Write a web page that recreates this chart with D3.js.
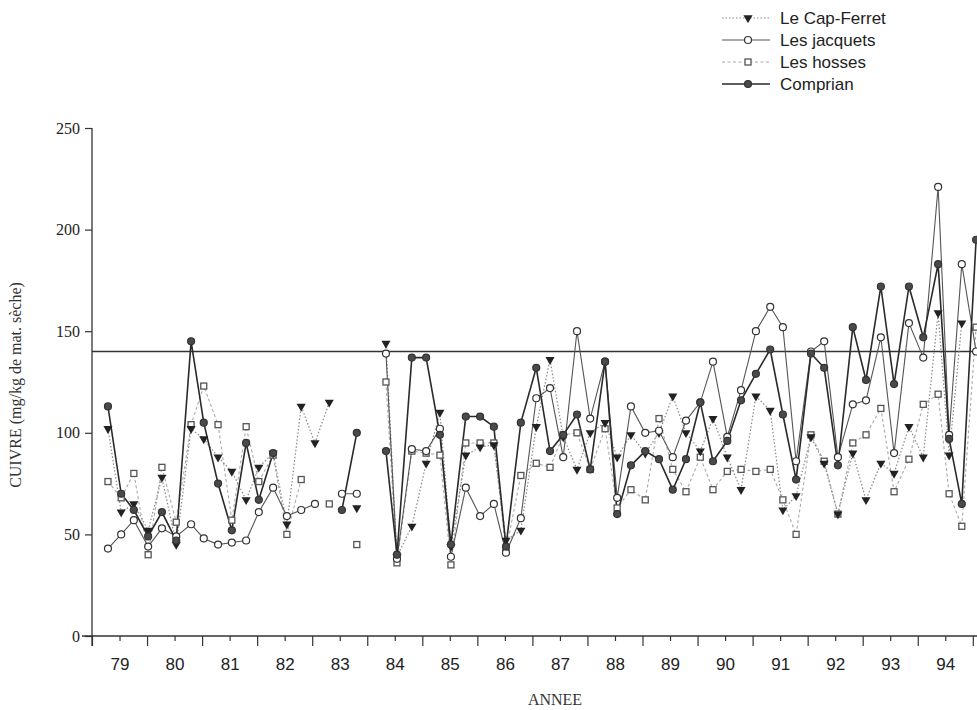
<!DOCTYPE html>
<html>
<head>
<meta charset="utf-8">
<script src="https://cdnjs.cloudflare.com/ajax/libs/d3/7.8.5/d3.min.js"></script>
<style>
  body { margin: 0; background: #fff; }
  svg { display: block; }
</style>
</head>
<body>
<svg></svg>
<script>
'use strict';

// sampling dates (decimal years); the 1984.0 entry is an empty column that breaks the lines
var sampleDates = [
  1979.29, 1979.53, 1979.76, 1980.02, 1980.27, 1980.53, 1980.80, 1981.03, 1981.29, 1981.54,
  1981.80, 1982.03, 1982.29, 1982.54, 1982.80, 1983.05, 1983.31, 1983.54, 1983.81, 1984.00,
  1984.34, 1984.54, 1984.81, 1985.07, 1985.32, 1985.52, 1985.79, 1986.05, 1986.30, 1986.52,
  1986.79, 1987.07, 1987.32, 1987.56, 1987.81, 1988.05, 1988.32, 1988.54, 1988.79, 1989.05,
  1989.30, 1989.55, 1989.79, 1990.05, 1990.28, 1990.54, 1990.79, 1991.06, 1991.32, 1991.55,
  1991.79, 1992.06, 1992.30, 1992.55, 1992.82, 1993.06, 1993.33, 1993.57, 1993.84, 1994.10,
  1994.37, 1994.57, 1994.80, 1995.06
];

var capFerret = [
  102, 61, 65, 52, 78, 45, 102, 97, 88, 81,
  67, 83, 90, 55, 113, 95, 115, null, 63, null,
  144, 39, 54, 85, 110, 44, 89, 93, 94, 47,
  52, 103, 136, 98, 82, 100, 105, 88, 99, 90,
  100, 118, 100, 91, 107, 88, 72, 118, 111, 62,
  69, 98, 85, 60, 90, 67, 85, 80, 103, 88,
  159, 89, 154, null
];

var jacquets = [
  43, 50, 57, 44, 53, 49, 55, 48, 45, 46,
  47, 61, 73, 59, 62, 65, null, 70, 70, null,
  139, 38, 92, 91, 102, 39, 73, 59, 65, 41,
  58, 117, 122, 88, 150, 107, 135, 68, 113, 100,
  101, 88, 106, 115, 135, 98, 121, 150, 162, 152,
  86, 140, 145, 88, 114, 116, 147, 90, 154, 137,
  221, 99, 183, 140
];

var hosses = [
  76, 68, 80, 40, 83, 56, 104, 123, 104, 57,
  103, 76, 89, 50, 77, null, 65, null, 45, null,
  125, 36, 91, 90, 89, 35, 95, 95, 95, 42,
  79, 85, 83, 99, 100, 82, 102, 63, 72, 67,
  107, 82, 71, 88, 72, 81, 82, 81, 82, 67,
  50, 99, 86, 60, 95, 99, 112, 71, 87, 114,
  119, 70, 54, 152
];

var comprian = [
  113, 70, 62, 49, 61, 47, 145, 105, 75, 52,
  95, 67, 90, null, null, null, null, 62, 100, null,
  91, 40, 137, 137, 99, 45, 108, 108, 103, 44,
  105, 132, 91, 99, 109, 82, 135, 60, 84, 91,
  87, 72, 87, 115, 86, 96, 116, 129, 141, 109,
  77, 139, 132, 84, 152, 126, 172, 124, 172, 147,
  183, 97, 65, 195
];

var yearStarts = d3.range(1979, 1996);
var yearLabels = ['79', '80', '81', '82', '83', '84', '85', '86', '87', '88', '89', '90', '91', '92', '93', '94'];
var yTicks = [0, 50, 100, 150, 200, 250];
var limitValue = 140;

var seriesNames = ['Le Cap-Ferret', 'Les jacquets', 'Les hosses', 'Comprian'];
var seriesValues = [capFerret, jacquets, hosses, comprian];

var canvasWidth = 977;
var canvasHeight = 710;
var svg = d3.select('svg')
  .attr('width', canvasWidth)
  .attr('height', canvasHeight);

var xScale = d3.scaleLinear().domain([1979, 1995]).range([92, 92 + 16 * 55.05]);
var yScale = d3.scaleLinear().domain([0, 250]).range([636, 128]);

// styles per series
var styles = {
  'Le Cap-Ferret': { stroke: '#888', width: 1.2, dash: '1.5,2', marker: 'triangle' },
  'Les jacquets': { stroke: '#555', width: 1.1, dash: null, marker: 'open' },
  'Les hosses': { stroke: '#aaa', width: 1.1, dash: '3,2.5', marker: 'square' },
  'Comprian': { stroke: '#2a2a2a', width: 1.6, dash: null, marker: 'filled' }
};

var serifFont = '"Liberation Serif", "Times New Roman", serif';
var sansFont = '"Liberation Sans", Arial, sans-serif';

// Y axis
var yAxis = svg.append('g')
  .attr('transform', 'translate(92,0)')
  .call(d3.axisLeft(yScale).tickValues(yTicks).tickSize(7).tickPadding(5).tickSizeOuter(0));
yAxis.select('.domain').remove();
yAxis.selectAll('.tick line').attr('stroke', '#333').attr('stroke-width', 1.2);
yAxis.selectAll('.tick text')
  .style('font-family', serifFont)
  .style('font-size', '16px')
  .attr('fill', '#222');
svg.append('line')
  .attr('x1', 92).attr('x2', 92)
  .attr('y1', yScale(250)).attr('y2', yScale(0) + 10)
  .attr('stroke', '#333').attr('stroke-width', 1.3);

// X axis: long ticks at year starts, short labelled ticks at mid-year
var xLong = svg.append('g')
  .attr('transform', 'translate(0,' + yScale(0) + ')')
  .call(d3.axisBottom(xScale).tickValues(yearStarts).tickSize(10).tickFormat(''));
xLong.select('.domain').remove();
xLong.selectAll('.tick line').attr('stroke', '#333').attr('stroke-width', 1.2);

var xShort = svg.append('g')
  .attr('transform', 'translate(0,' + yScale(0) + ')')
  .call(d3.axisBottom(xScale)
    .tickValues(yearLabels.map(function(d, i) { return yearStarts[i] + 0.5; }))
    .tickSize(5).tickPadding(17)
    .tickFormat(function(d, i) { return yearLabels[i]; }));
xShort.select('.domain').remove();
xShort.selectAll('.tick line').attr('stroke', '#333').attr('stroke-width', 1.2);
xShort.selectAll('.tick text')
  .style('font-family', sansFont)
  .style('font-size', '17px')
  .attr('fill', '#222');

svg.append('line')
  .attr('x1', 82).attr('x2', canvasWidth)
  .attr('y1', yScale(0)).attr('y2', yScale(0))
  .attr('stroke', '#333').attr('stroke-width', 1.3);

// reference line at 140
svg.append('line')
  .attr('x1', 92).attr('x2', canvasWidth)
  .attr('y1', yScale(limitValue)).attr('y2', yScale(limitValue))
  .attr('stroke', '#333').attr('stroke-width', 1.5);

// axis titles
svg.append('text')
  .attr('transform', 'translate(21,' + 385 + ') rotate(-90)')
  .style('text-anchor', 'middle')
  .style('font-family', serifFont)
  .style('font-size', '16px')
  .attr('fill', '#333')
  .text('CUIVRE (mg/kg de mat. sèche)');

svg.append('text')
  .attr('x', 555)
  .attr('y', 705)
  .style('text-anchor', 'middle')
  .style('font-family', serifFont)
  .style('font-size', '16px')
  .attr('fill', '#333')
  .text('ANNEE');

function drawMarker(sel, kind) {
  if (kind === 'filled' || kind === 'open') {
    sel.append('circle')
      .attr('r', 3.5)
      .attr('fill', kind === 'filled' ? '#4a4a4a' : '#fff')
      .attr('stroke', '#333')
      .attr('stroke-width', 1.2);
  } else if (kind === 'triangle') {
    sel.append('path')
      .attr('d', d3.symbol(d3.symbolTriangle, 36)())
      .attr('transform', 'rotate(180)')
      .attr('fill', '#222');
  } else {
    sel.append('rect')
      .attr('x', -3).attr('y', -3)
      .attr('width', 6).attr('height', 6)
      .attr('fill', '#fff')
      .attr('stroke', '#555')
      .attr('stroke-width', 1.3);
  }
}

// lines and markers (drawn from background series to foreground)
var line = d3.line()
  .defined(function(d) { return d.v !== null; })
  .x(function(d) { return xScale(d.t); })
  .y(function(d) { return yScale(d.v); });

var drawOrder = [2, 0, 1, 3];
drawOrder.forEach(function(k) {
  var name = seriesNames[k];
  var st = styles[name];
  var pts = sampleDates.map(function(t, i) { return { t: t, v: seriesValues[k][i] }; });
  svg.append('path')
    .datum(pts)
    .attr('fill', 'none')
    .attr('stroke', st.stroke)
    .attr('stroke-width', st.width)
    .attr('stroke-dasharray', st.dash)
    .attr('d', line);
});
drawOrder.forEach(function(k) {
  var name = seriesNames[k];
  var st = styles[name];
  var pts = sampleDates.map(function(t, i) { return { t: t, v: seriesValues[k][i] }; })
    .filter(function(d) { return d.v !== null; });
  var g = svg.selectAll('.m' + k)
    .data(pts)
    .enter().append('g')
    .attr('class', 'm' + k)
    .attr('transform', function(d) { return 'translate(' + xScale(d.t) + ',' + yScale(d.v) + ')'; });
  drawMarker(g, st.marker);
});

// Legend
var legend = svg.selectAll('.legend')
  .data(seriesNames)
  .enter().append('g')
  .attr('class', 'legend')
  .attr('transform', function(d, i) { return 'translate(0,' + (18 + i * 22) + ')'; });

legend.append('line')
  .attr('x1', 722).attr('x2', 770)
  .attr('y1', 0).attr('y2', 0)
  .attr('stroke', function(d) { return styles[d].stroke; })
  .attr('stroke-width', function(d) { return styles[d].width; })
  .attr('stroke-dasharray', function(d) { return styles[d].dash; });

legend.each(function(d) {
  var m = d3.select(this).append('g').attr('transform', 'translate(748,0)');
  drawMarker(m, styles[d].marker);
});

legend.append('text')
  .attr('x', 780)
  .attr('y', 0)
  .attr('dy', '.35em')
  .style('font-family', sansFont)
  .style('font-size', '17px')
  .attr('fill', '#222')
  .text(function(d) { return d; });
</script>
</body>
</html>
